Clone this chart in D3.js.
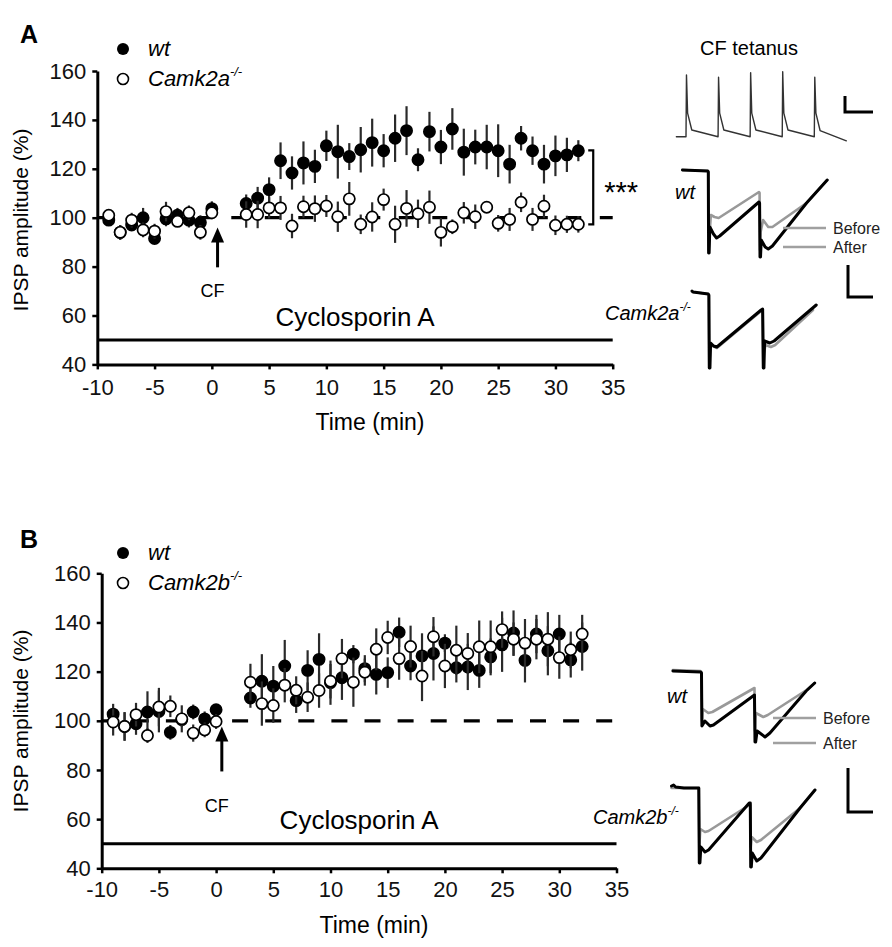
<!DOCTYPE html>
<html>
<head>
<meta charset="utf-8">
<script src="https://cdn.jsdelivr.net/npm/d3@7"></script>
<style>
body { margin:0; background:#fff; }
svg { display:block; font-family:"Liberation Sans", Arial, sans-serif; }
</style>
</head>
<body>
<svg id="fig" width="892" height="947"></svg>
<script>

// sampling times (min), same in both panels
var times = [-9,-8,-7,-6,-5,-4,-3,-2,-1,0,
  3,4,5,6,7,8,9,10,11,12,13,14,15,16,17,18,19,20,21,22,23,24,25,26,27,28,29,30,31,32];

var xTicks = [-10,-5,0,5,10,15,20,25,30,35];
var yTicks = [40,60,80,100,120,140,160];

// panel A : wt vs Camk2a-/-
var wtA = [99,94,97,100,91.5,99.5,101,99,98,103.7,
  105.8,108,111.5,123.3,118.3,122.4,121,129.4,127,125,127.8,130.7,127.4,132.5,135.6,123.7,135.2,128.9,136.3,126.8,
  128.9,128.9,127.4,121.9,132.5,127.4,121.9,125.3,125.7,127.4];
var wtAErr = [2,3,2,4,2,3,3,3,3,3,
  3.7,4.6,5,7.5,6.8,8.8,6.8,6.2,11,5.5,9.3,9.8,6.8,9.7,10,4.7,8.1,7,8.5,9.6,
  7.1,9.1,10.8,7.9,5,5.8,7.9,8.3,7,4.3];
var koA = [101,94,99,95,94.5,102.5,98.5,102,94,102,
  101.3,101.3,104,104,96.6,104.5,103.7,104.8,100.4,107.7,97.3,100.3,107.4,97.3,103.8,101.6,104.3,94,96.3,102,
  100.4,104.3,97.7,99.3,106.3,99.3,104.7,96.9,97.3,97.3];
var koAErr = [2,3,3,3,3,4,2,3,3,2,
  5.4,5.6,4.3,4.9,5,4.5,5.4,4.5,6.2,6.9,4,6,4.5,7.6,7.5,5.8,6.8,5.8,3,4.4,
  5,2,3.4,4.7,4,4.7,4.7,4,3.5,3.4];

// panel B : wt vs Camk2b-/-
var wtB = [102.7,97.7,98.8,103.6,103.8,95.3,100.5,103.6,100.8,104.5,
  109.3,116.1,114.1,122.3,108.2,120.5,125,115.5,117.5,127.1,121.2,118.9,119.6,136,122.3,126.4,127.4,131.6,121.6,121.9,
  120.5,126,130.9,135.7,124.6,135.3,128.5,135.3,124.8,130.2];
var wtBErr = [4.2,5.8,4.5,8.4,8.5,3,3,3,3,2,
  4,11,8.2,10.6,5,8.2,10.6,9,9,3.7,5.5,8.2,6.2,6,5.8,9.2,11,3.6,6,9.4,
  7.1,7.5,11,9.2,9,7.8,10,7.8,7.2,9.8];
var koB = [99.5,97.7,102.5,94,105.6,105.9,100.8,95,96.3,99.7,
  115.7,107,106.2,114.5,112.4,109.6,112.3,116.1,125.3,115.7,119.8,129.1,133.9,125.3,130.2,118.2,134.2,122.3,128.7,127.4,
  130.1,130.1,137.1,133.2,131.6,133.2,133.2,125.7,128.9,135.3];
var koBErr = [5.5,5.8,4.8,3,7.8,4.4,5.5,3.5,3,3,
  7.5,9,7,7,5.7,6,7,7,8,10,5.5,8.5,6.8,8.6,8.5,10.2,8,9,10,8.3,
  10.7,10.7,7.4,6.8,9.8,8.2,11,8.6,7.4,7.8];

// example traces: [ms, amplitude]
var tetanus = [[-3,-65],[0,-65],[0.15,-5],[0.5,-42],[1.8,-58.5],[10,-65],
  [10.15,-7.2],[10.5,-42],[11.8,-58.5],[20,-65],
  [20.15,-2.7],[20.5,-42],[21.8,-58.5],[30,-65],
  [30.15,-1.8],[30.5,-42],[31.8,-58.5],[40,-65],
  [40.15,-7.2],[40.5,-42],[41.8,-59],[50,-69]];

var wtA_after = [[-5,0],[19.5,-1],[20,-2],[20.3,-83],[20.8,-83],[21.5,-57],[25,-64],[28,-68],[31,-66],
  [69,-32],[69.6,-33],[70,-87],[70.5,-87],[71.2,-70],[75,-77],[78,-79],[82,-76],[115,-33],[135,-10]];
var wtA_before = [[-5,0],[19.5,-1],[20,-2],[20.3,-80],[20.8,-70],[22.5,-45],[26,-47],[30,-48],
  [69,-22],[69.6,-23],[70,-80],[70.6,-62],[73,-50],[78,-57],[82,-57],[115,-33],[135,-10]];
var koA_after = [[4,2],[5,1],[12,0],[19,-1],[19.6,-2],[20,-75],[20.6,-75],[21.2,-50],[24,-53],[27,-54],
  [68,-17],[69.4,-16],[70,-75],[70.6,-75],[71.2,-48],[76,-50],[80,-48],[119,-12]];
var koA_before = [[4,1],[12,0],[19,-1],[19.6,-2],[20,-75],[20.6,-60],[21.5,-52],[27,-55],
  [68,-18],[69.4,-17],[70,-75],[70.6,-60],[72,-52],[77,-54],[81,-52],[116,-17]];

var wtB_after = [[-7,0],[19,-1],[19.8,-2],[20.2,-55],[20.8,-54],[23,-50],[27.8,-55],[31,-54],
  [69.5,-24],[70,-71],[70.6,-71],[72,-60],[79.4,-66],[84,-62],[118,-20],[126,-12]];
var wtB_before = [[-7,1],[19,0],[19.8,-1],[20.2,-50],[21,-38],[26.2,-42],[30,-41],
  [69.5,-17],[70,-60],[70.8,-42],[77.8,-46],[82,-44],[118.4,-19],[126,-12]];
var koB_after = [[-7,1],[-5,2],[-3,0],[5,-1],[19.5,-1],[20,-76],[20.6,-76],[21.5,-60],[25.5,-65],[29,-63],
  [68.6,-16],[69.6,-16],[70,-80],[70.6,-80],[71.5,-66],[75.9,-74],[80,-71],[118,-21],[132.5,-3]];
var koB_before = [[-7,-1],[-3,-1],[19.5,-1],[20,-60],[21,-42],[25.5,-45],[29,-44],
  [68.6,-18],[69.6,-18],[70,-60],[71,-50],[75.9,-55],[80,-53],[118,-21],[132.5,-3]];

var svg = d3.select("#fig");
var plain = function(d){ return String(d); };   // keep the ascii hyphen on negatives

function drawPanel(p) {
  var x = d3.scaleLinear().domain([-10,35]).range(p.xr);
  var y = d3.scaleLinear().domain([40,160]).range(p.yr);
  var g = svg.append("g");

  g.append("text").attr("x",20).attr("y",p.letterY)
    .attr("font-size",25).attr("font-weight","bold").text(p.letter);

  // cyclosporin bar
  g.append("line")
    .attr("x1",x(-10)).attr("x2",x(35)).attr("y1",y(50)).attr("y2",y(50))
    .attr("stroke","#000").attr("stroke-width",3);
  g.append("text").attr("x",x(12.5)).attr("y",p.cycloY)
    .attr("text-anchor","middle").attr("font-size",26).text("Cyclosporin A");

  // 100% reference
  g.append("line")
    .attr("x1",x(-10)).attr("x2",x(35)).attr("y1",y(100)).attr("y2",y(100))
    .attr("stroke","#000").attr("stroke-width",3.2)
    .attr("stroke-dasharray",p.dash).attr("stroke-dashoffset",p.dashOff);

  var gy = g.append("g").attr("transform","translate("+x(-10)+",0)")
    .call(d3.axisLeft(y).tickValues(yTicks).tickFormat(plain).tickSize(5).tickSizeOuter(0).tickPadding(6));
  var gx = g.append("g").attr("transform","translate(0,"+y(40)+")")
    .call(d3.axisBottom(x).tickValues(xTicks).tickFormat(plain).tickSize(5).tickSizeOuter(0).tickPadding(p.xPad));
  [gx,gy].forEach(function(a){
    a.select(".domain").attr("stroke-width",3);
    a.selectAll(".tick line").attr("stroke-width",2.5);
    a.selectAll(".tick text").attr("font-size",22).attr("fill","#111")
      .attr("font-family","Liberation Sans, Arial, sans-serif");
  });

  g.append("text").attr("x",p.xlabX).attr("y",p.xlabY).attr("text-anchor","middle")
    .attr("font-size",23).text("Time (min)");
  g.append("text").attr("transform","translate(28,"+p.ylabY+") rotate(-90)")
    .attr("text-anchor","middle").attr("font-size",21).text("IPSP amplitude (%)");

  // CF arrow
  var ax = x(0.5);
  g.append("line").attr("x1",ax).attr("x2",ax).attr("y1",y(p.arrow[0])).attr("y2",y(p.arrow[1]) + 12)
    .attr("stroke","#000").attr("stroke-width",3);
  g.append("path")
    .attr("d","M"+ax+","+y(p.arrow[1])+" l-6.5,15 l13,0 z").attr("fill","#000");
  g.append("text").attr("x",ax-5).attr("y",p.cfY).attr("text-anchor","middle")
    .attr("font-size",18).text("CF");

  function series(vals, errs, filled) {
    var s = g.append("g");
    s.selectAll("line").data(vals).enter().append("line")
      .attr("x1",function(d,i){ return x(times[i]); })
      .attr("x2",function(d,i){ return x(times[i]); })
      .attr("y1",function(d,i){ return y(d - errs[i]); })
      .attr("y2",function(d,i){ return y(d + errs[i]); })
      .attr("stroke","#2a2a2a").attr("stroke-width",2.2);
    s.selectAll("circle").data(vals).enter().append("circle")
      .attr("cx",function(d,i){ return x(times[i]); })
      .attr("cy",function(d){ return y(d); })
      .attr("r",5.6)
      .attr("fill",filled ? "#000" : "#fff")
      .attr("stroke","#000").attr("stroke-width",1.7);
  }
  series(p.wt, p.wtErr, true);
  series(p.ko, p.koErr, false);

  // legend
  var lg = g.append("g");
  lg.append("circle").attr("cx",123).attr("cy",p.legY).attr("r",6).attr("fill","#000");
  lg.append("circle").attr("cx",123).attr("cy",p.legY+30).attr("r",5.5)
    .attr("fill","#fff").attr("stroke","#000").attr("stroke-width",1.6);
  lg.append("text").attr("x",148).attr("y",p.legY+7).attr("font-size",22)
    .attr("font-style","italic").text("wt");
  var kt = lg.append("text").attr("x",148).attr("y",p.legY+37).attr("font-size",22)
    .attr("font-style","italic");
  kt.append("tspan").text(p.gene);
  kt.append("tspan").attr("font-size",13).attr("dy",-10).text("-/-");

  return {x:x, y:y, g:g};
}

var A = drawPanel({letter:"A", letterY:43, xr:[97.3,612.7], yr:[364.4,71],
  wt:wtA, wtErr:wtAErr, ko:koA, koErr:koAErr, gene:"Camk2a",
  dash:"15,18.5", dashOff:0, xPad:10, xlabX:370, xlabY:430, ylabY:220,
  cycloY:326, arrow:[79.7,96], cfY:297, legY:49});
var B = drawPanel({letter:"B", letterY:548, xr:[101.7,616.5], yr:[868.3,573.3],
  wt:wtB, wtErr:wtBErr, ko:koB, koErr:koBErr, gene:"Camk2b",
  dash:"16,17.1", dashOff:2, xPad:8, xlabX:374, xlabY:933, ylabY:721,
  cycloY:829, arrow:[79.4,97.7], cfY:812, legY:553});

// significance bracket (panel A)
var bx = A.x(33.3);
A.g.append("path")
  .attr("d","M"+(bx-5)+","+A.y(127.5)+" L"+bx+","+A.y(127.5)+" L"+bx+","+A.y(97.3)+" L"+(bx-5)+","+A.y(97.3))
  .attr("fill","none").attr("stroke","#000").attr("stroke-width",2.2);
A.g.append("text").attr("x",bx+11).attr("y",A.y(112.6)+15).attr("font-size",29).text("***");

// ---- example traces ----
var line = function(xs, ys){
  return d3.line().x(function(d){ return xs(d[0]); }).y(function(d){ return ys(d[1]); });
};
function trace(pts, xs, ys, col, w) {
  svg.append("path").attr("d", line(xs, ys)(pts))
    .attr("fill","none").attr("stroke",col).attr("stroke-width",w)
    .attr("stroke-linejoin","round").attr("stroke-linecap","round");
}
function scaleBar(x0, y0, y1, x1) {
  svg.append("path").attr("d","M"+x0+","+y0+" L"+x0+","+y1+" L"+x1+","+y1)
    .attr("fill","none").attr("stroke","#000").attr("stroke-width",3);
}
function italicLabel(x0, y0, txt, sup) {
  var t = svg.append("text").attr("x",x0).attr("y",y0).attr("font-size",20).attr("font-style","italic");
  t.append("tspan").text(txt);
  if (sup) t.append("tspan").attr("font-size",12).attr("dy",-9).text(sup);
}
function beforeAfter(x0, x1, yb, ya) {
  [[yb,"Before"],[ya,"After"]].forEach(function(d){
    svg.append("line").attr("x1",x0).attr("x2",x1).attr("y1",d[0]).attr("y2",d[0])
      .attr("stroke","#a0a0a0").attr("stroke-width",2.6);
    svg.append("text").attr("x",x1+7).attr("y",d[0]+6).attr("font-size",16).attr("fill","#222").text(d[1]);
  });
}

// CF tetanus
svg.append("text").attr("x",749).attr("y",55).attr("text-anchor","middle").attr("font-size",20).text("CF tetanus");
trace(tetanus, d3.scaleLinear().domain([0,40]).range([686,814.3]),
  d3.scaleLinear().domain([-65,-5]).range([136.7,75]), "#333", 1.4);
scaleBar(845, 96, 112, 873);

// panel A insets
var xsWA = d3.scaleLinear().domain([20,70]).range([708.3,760]);
var ysWA = d3.scaleLinear().domain([0,-100]).range([170,270]);
trace(wtA_before, xsWA, ysWA, "#999", 2.6);
trace(wtA_after, xsWA, ysWA, "#000", 3);
italicLabel(675, 199, "wt");
beforeAfter(783, 826, 228, 247);
scaleBar(848, 265, 297, 873);

var xsKA = d3.scaleLinear().domain([20,70]).range([709.3,763.3]);
var ysKA = d3.scaleLinear().domain([0,-100]).range([293,393]);
trace(koA_before, xsKA, ysKA, "#999", 2.6);
trace(koA_after, xsKA, ysKA, "#000", 3);
italicLabel(605, 320, "Camk2a", "-/-");

// panel B insets
var xsWB = d3.scaleLinear().domain([20,70]).range([701.7,755]);
var ysWB = d3.scaleLinear().domain([0,-100]).range([671,771]);
trace(wtB_before, xsWB, ysWB, "#999", 2.6);
trace(wtB_after, xsWB, ysWB, "#000", 3);
italicLabel(667, 703, "wt");
beforeAfter(773, 816, 718, 743);

var xsKB = d3.scaleLinear().domain([20,70]).range([699.3,750.7]);
var ysKB = d3.scaleLinear().domain([0,-100]).range([787,887]);
trace(koB_before, xsKB, ysKB, "#999", 2.6);
trace(koB_after, xsKB, ysKB, "#000", 3);
italicLabel(593, 824, "Camk2b", "-/-");
scaleBar(848, 768, 812, 873);

</script>
</body>
</html>
